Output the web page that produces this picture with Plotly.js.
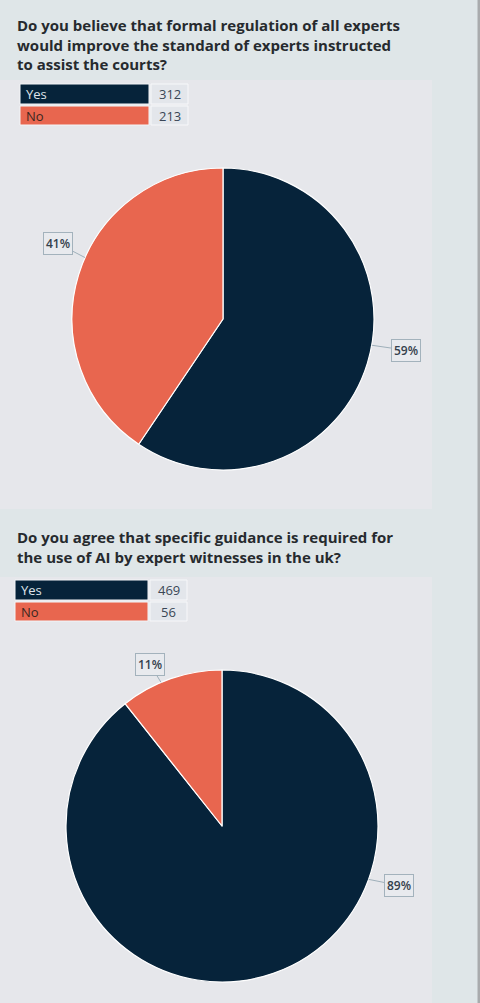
<!DOCTYPE html>
<html>
<head>
<meta charset="utf-8">
<script src="https://cdn.plot.ly/plotly-3.0.1.min.js"></script>
<style>
html,body{margin:0;padding:0;background:#dfe6e8;}
#chart{width:480px;height:1003px;}
</style>
</head>
<body>
<div id="chart"></div>
<script>
// ---- data ----
const answerLabels = ["Yes", "No"];
const q1TitleLines = [
  "Do you believe that formal regulation of all experts",
  "would improve the standard of experts instructed",
  "to assist the courts?"
];
const q1Counts = [312, 213];
const q2TitleLines = [
  "Do you agree that specific guidance is required for",
  "the use of AI by expert witnesses in the uk?"
];
const q2Counts = [469, 56];

// ---- styling ----
const W = 480, H = 1003;
const X = px => px / W;
const Y = py => 1 - py / H;
const NAVY = "#06233a", ORANGE = "#e8664f";
const PAGE = "#dfe6e8", PANEL = "#e6e7eb";
const FONT = "Open Sans, Noto Sans, sans-serif";

const charts = [
  {
    titleLines: q1TitleLines, counts: q1Counts,
    titleTop: 14, titleX: 16,
    panel: [0, 80, 432, 509],
    legend: {x0: 20, x1: 149, v0: 151, v1: 188, rows: [[84, 104], [106, 125]]},
    pie: {cx: 223, cy: 319, r: 151},
    labels: [ {angle: 100, ax: 34, ay: 5}, {angle: 294, ax: -27, ay: -14} ]
  },
  {
    titleLines: q2TitleLines, counts: q2Counts,
    titleTop: 526, titleX: 16,
    panel: [0, 577, 432, 1003],
    legend: {x0: 15, x1: 148, v0: 150, v1: 187, rows: [[580, 600], [602, 621]]},
    pie: {cx: 222, cy: 826, r: 156},
    labels: [ {angle: 110, ax: 30, ay: 6}, {angle: 337, ax: -11, ay: -18} ]
  }
];

const traces = [];
const shapes = [];
const annotations = [];

// scrollbar strip on right
shapes.push({type: "rect", xref: "paper", yref: "paper", x0: X(477.5), x1: X(480), y0: Y(1003), y1: Y(0),
  fillcolor: "#a9abad", line: {width: 0}, layer: "below"});

charts.forEach(c => {
  const total = c.counts.reduce((a, b) => a + b, 0);
  // panel
  shapes.push({type: "rect", xref: "paper", yref: "paper",
    x0: X(c.panel[0]), x1: X(c.panel[2]), y0: Y(c.panel[3]), y1: Y(c.panel[1]),
    fillcolor: PANEL, line: {width: 0}, layer: "below"});
  // title (one block, so lines never overlap)
  annotations.push({text: "<b>" + c.titleLines.join("<br>") + "</b>", xref: "paper", yref: "paper",
    x: X(c.titleX), y: Y(c.titleTop), xanchor: "left", yanchor: "top", align: "left", showarrow: false,
    borderpad: 0,
    font: {family: FONT, size: 15, color: "#262a2e"}});
  // legend table
  const colors = [NAVY, ORANGE];
  const txtColors = ["#dfe4ea", "#3b2620"];
  answerLabels.forEach((lab, i) => {
    const [r0, r1] = c.legend.rows[i];
    shapes.push({type: "rect", xref: "paper", yref: "paper",
      x0: X(c.legend.x0), x1: X(c.legend.x1), y0: Y(r1), y1: Y(r0),
      fillcolor: colors[i], line: {color: "#f4f5f7", width: 1}});
    shapes.push({type: "rect", xref: "paper", yref: "paper",
      x0: X(c.legend.v0), x1: X(c.legend.v1), y0: Y(r1), y1: Y(r0),
      fillcolor: "#e3e6eb", line: {color: "#f7f8fa", width: 1}});
    annotations.push({text: lab, xref: "paper", yref: "paper",
      x: X(c.legend.x0 + 4), y: Y((r0 + r1) / 2), xanchor: "left", yanchor: "middle", showarrow: false,
      font: {family: FONT, size: 13, color: txtColors[i]}});
    annotations.push({text: String(c.counts[i]), xref: "paper", yref: "paper",
      x: X((c.legend.v0 + c.legend.v1) / 2), y: Y((r0 + r1) / 2), xanchor: "center", yanchor: "middle", showarrow: false,
      font: {family: FONT, size: 13, color: "#3a4656"}});
  });
  // pie
  const p = c.pie;
  traces.push({
    type: "pie", labels: answerLabels, values: c.counts,
    sort: false, direction: "clockwise", rotation: 0,
    marker: {colors: colors, line: {color: "#ffffff", width: 1.2}},
    textinfo: "none", hoverinfo: "label+value+percent", showlegend: false,
    domain: {x: [X(p.cx - p.r), X(p.cx + p.r)], y: [Y(p.cy + p.r), Y(p.cy - p.r)]}
  });
  // percentage labels with connectors
  c.labels.forEach((l, i) => {
    const a = l.angle * Math.PI / 180;
    const tx = p.cx + p.r * Math.sin(a);
    const ty = p.cy - p.r * Math.cos(a);
    const pct = Math.round(c.counts[i] / total * 100) + "%";
    annotations.push({text: pct, xref: "paper", yref: "paper",
      x: X(tx), y: Y(ty), ax: l.ax, ay: l.ay, xanchor: "center", yanchor: "middle",
      showarrow: true, arrowhead: 0, arrowwidth: 1, arrowcolor: "#9fb0ba",
      bgcolor: "#e8eaee", bordercolor: "#a3b2bc", borderwidth: 1, borderpad: 2,
      font: {family: FONT, size: 12, weight: 600, color: "#34404c"}});
  });
});

const layout = {
  width: W, height: H,
  margin: {l: 0, r: 0, t: 0, b: 0},
  paper_bgcolor: PAGE, plot_bgcolor: PAGE,
  showlegend: false,
  shapes: shapes, annotations: annotations
};
Plotly.newPlot("chart", traces, layout, {displayModeBar: false, staticPlot: true});
</script>
</body>
</html>
